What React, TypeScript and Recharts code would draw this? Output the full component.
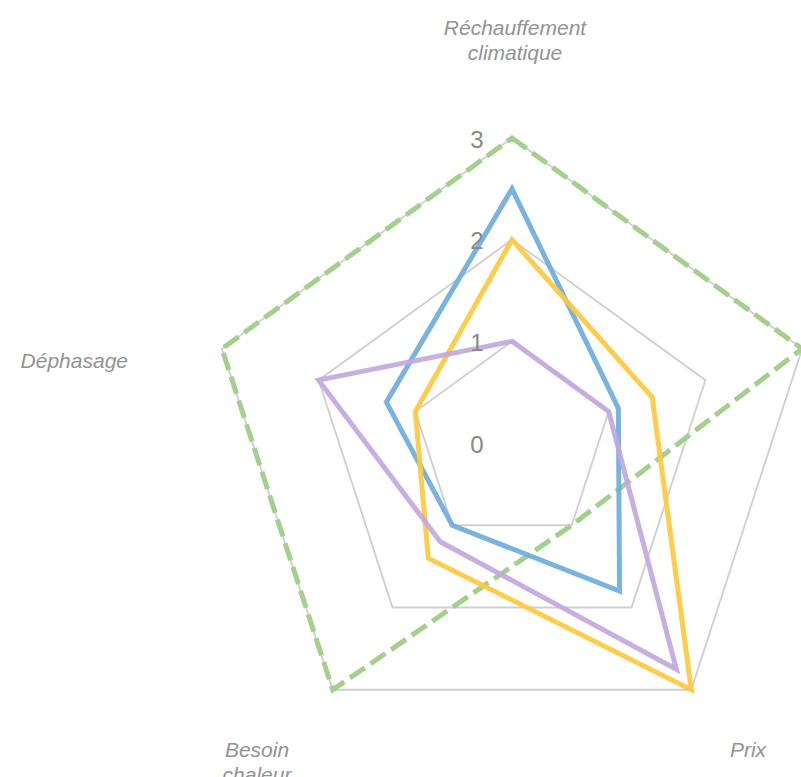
import React from 'react';
import { RadarChart, Radar, PolarGrid, PolarAngleAxis, PolarRadiusAxis } from 'recharts';

// axes, clockwise from the top (the right-hand axis name is cut off in the source)
const criteres = ['Réchauffement climatique', '', 'Prix', 'Besoin chaleur', 'Déphasage'];
const serieVerte = [3, 3, 1, 3, 3];
const serieBleue = [2.5, 1.1, 1.8, 1, 1.3];
const serieJaune = [2, 1.45, 3, 1.4, 1];
const serieViolette = [1, 1, 2.75, 1.2, 2];
const graduations = [0, 1, 2, 3];

const data = criteres.map((critere, i) => ({
  critere,
  vert: serieVerte[i],
  bleu: serieBleue[i],
  jaune: serieJaune[i],
  violet: serieViolette[i],
}));

// label lines + offset from the tick anchor, per axis
const labelLines = [['Réchauffement', 'climatique'], [], ['Prix'], ['Besoin', 'chaleur'], ['Déphasage']];
const labelOffsets = [
  { dx: 3, dy: -103 },
  { dx: 0, dy: 0 },
  { dx: 52, dy: 53 },
  { dx: -71, dy: 53 },
  { dx: -140, dy: 14 },
];

const labelFont = "'Liberation Sans', Arial, sans-serif";

const AngleTick = (props: any) => {
  const { x, y, index } = props;
  const lines = labelLines[index] || [];
  const off = labelOffsets[index];
  return (
    <g>
      {lines.map((l: string, k: number) => (
        <text
          key={k}
          x={x + off.dx}
          y={y + off.dy + k * 25}
          textAnchor="middle"
          dominantBaseline="central"
          fontFamily={labelFont}
          fontStyle="italic"
          fontSize={21}
          fill="#939393"
        >
          {l}
        </text>
      ))}
    </g>
  );
};

const RadiusTick = (props: any) => {
  const { x, y, payload } = props;
  return (
    <text
      x={x - 35}
      y={y + 1}
      textAnchor="middle"
      dominantBaseline="central"
      fontFamily={labelFont}
      fontSize={24}
      fill="#888888"
    >
      {payload.value}
    </text>
  );
};

export default function App() {
  return (
    <div style={{ position: 'fixed', left: 0, top: 0, width: 801, height: 777, overflow: 'hidden', background: '#fff' }}>
      <RadarChart
        width={1024}
        height={886}
        data={data}
        cx="50%"
        cy="50%"
        outerRadius={305}
        margin={{ top: 0, right: 0, bottom: 0, left: 0 }}
      >
        <PolarGrid gridType="polygon" radialLines={false} stroke="#cfcfcf" strokeWidth={1.8} />
        <PolarAngleAxis dataKey="critere" tick={<AngleTick />} tickLine={false} axisLine={false} />
        <PolarRadiusAxis
          angle={90}
          domain={[0, 3]}
          ticks={graduations as any}
          tickCount={4}
          axisLine={false}
          tick={<RadiusTick />}
        />
        <Radar dataKey="vert" stroke="#a5cf8c" strokeWidth={5} strokeDasharray="18 7" fill="none" fillOpacity={0} dot={false} isAnimationActive={false} />
        <Radar dataKey="bleu" stroke="#6eaede" strokeOpacity={0.92} strokeWidth={5} fill="none" fillOpacity={0} dot={false} isAnimationActive={false} />
        <Radar dataKey="jaune" stroke="#ffc93c" strokeOpacity={0.92} strokeWidth={5} fill="none" fillOpacity={0} dot={false} isAnimationActive={false} />
        <Radar dataKey="violet" stroke="#c2a6de" strokeOpacity={0.9} strokeWidth={5} fill="none" fillOpacity={0} dot={false} isAnimationActive={false} />
      </RadarChart>
    </div>
  );
}
